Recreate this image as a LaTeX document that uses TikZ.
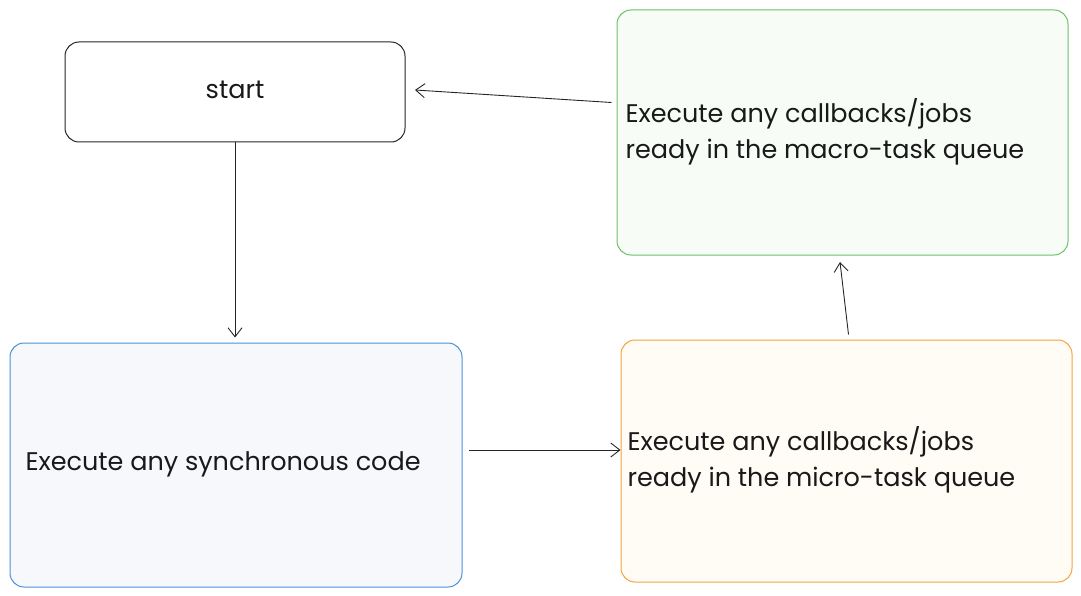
\documentclass[tikz,border=0pt]{standalone}
\usepackage{fontspec}
\setmainfont{Poppins}
\usetikzlibrary{arrows.meta}
\definecolor{bblue}{HTML}{4A90D9}
\definecolor{bfill}{HTML}{F6F8FC}
\definecolor{oline}{HTML}{F5A33A}
\definecolor{ofill}{HTML}{FFFBF5}
\definecolor{gline}{HTML}{6CC06C}
\definecolor{gfill}{HTML}{F7FCF7}
\tikzset{
  box/.style={draw, rounded corners=14pt, line width=1pt},
  lbl/.style={font=\fontsize{25.5}{36}\selectfont, text=black!90, align=left, anchor=west},
  arr/.style={-{Straight Barb[length=9pt,width=14pt]}, line width=0.9pt, black!85}
}
\begin{document}
\begin{tikzpicture}[x=1pt,y=-1pt]
\useasboundingbox (0,0) rectangle (1081,596);
\node[box, draw=black!85, fill=white, minimum width=340pt, minimum height=100pt] (start) at (235,92) {};
\node[font=\fontsize{25.5}{36}\selectfont, text=black!90] at (235,90) {start};
\node[box, draw=bblue, fill=bfill, minimum width=452pt, minimum height=244pt] (sync) at (236,465) {};
\node[lbl] at (22,464) {Execute any synchronous code};
\node[box, draw=oline, fill=ofill, minimum width=451pt, minimum height=242pt] (micro) at (846.5,461) {};
\node[lbl] at (624,460) {Execute any callbacks/jobs\\ready in the micro-task queue};
\node[box, draw=gline, fill=gfill, minimum width=451pt, minimum height=245pt] (macro) at (842.5,132.5) {};
\node[lbl] at (622,132) {Execute any callbacks/jobs\\ready in the macro-task queue};
\draw[arr] (start.south) -- ++(0,195);
\draw[arr] (sync.east) ++(6,-15) -- (micro.west |- 0,450);
\draw[arr] (micro.north) ++(2,-5) -- (840,262);
\draw[arr] (macro.west) ++(-5,-30) -- (415,90);
\end{tikzpicture}
\end{document}
